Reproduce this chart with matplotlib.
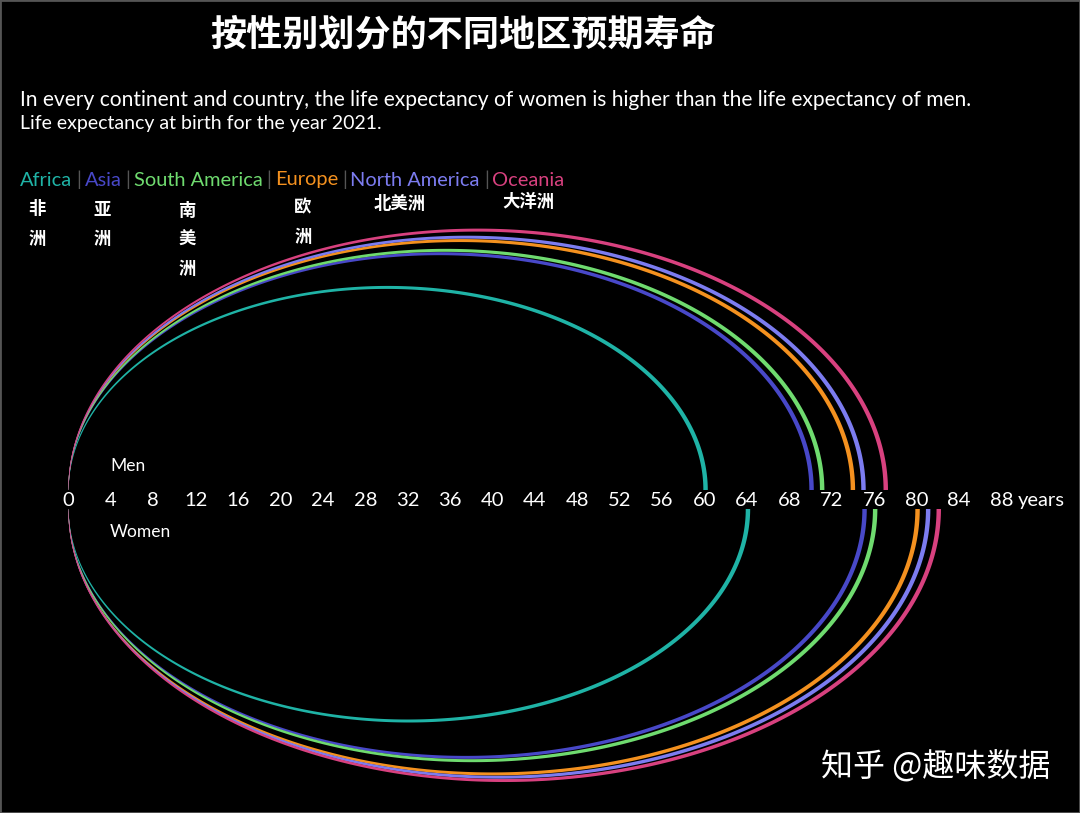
import numpy as np
import matplotlib.pyplot as plt
from matplotlib.patches import Polygon, Rectangle

regions = ["Africa", "Asia", "South America", "Europe", "North America", "Oceania"]
regions_cn = ["非\n洲", "亚\n洲", "南\n美\n洲", "欧\n洲", "北美洲", "大洋洲"]
men = [60.1, 70.1, 71.1, 74.0, 75.0, 77.1]
women = [64.1, 75.1, 76.1, 80.1, 81.1, 82.1]
colors = ["#1fb3a6", "#4848c8", "#6fdb6f", "#f4911f", "#7c7cf0", "#d8417f"]
ticks = [0, 4, 8, 12, 16, 20, 24, 28, 32, 36, 40, 44, 48, 52, 56, 60, 64, 68, 72, 76, 80, 84, 88]

W, H = 1080, 813
PX = 10.6     # pixels per year
X0 = 68.5     # pixel x of age 0
YC = 500      # pixel y of the axis labels

fig = plt.figure(figsize=(W / 100, H / 100), dpi=100, facecolor="black")
ax = fig.add_axes([0, 0, 1, 1])
ax.set_facecolor("black")
ax.set_xlim(-X0 / PX, (W - X0) / PX)
ax.set_ylim(-(H - YC) / PX, YC / PX)
ax.axis("off")

men_base = (YC - 490) / PX
women_base = -(509 - YC) / PX


def arc(value, base, sign, k, color):
    # half ellipse drawn as a filled band that gets wider towards the end
    th = np.linspace(np.pi, 0, 400)
    x = value / 2 * (1 + np.cos(th))
    y = base + sign * k * value * np.sin(th)
    dx = np.gradient(x)
    dy = np.gradient(y)
    n = np.hypot(dx, dy)
    nx, ny = -dy / n, dx / n
    t = np.linspace(0, 1, len(th))
    half = (0.15 + 4.3 * t ** 0.6) / 2 / PX
    left = np.column_stack([x + nx * half, y + ny * half])
    right = np.column_stack([x - nx * half, y - ny * half])
    poly = np.vstack([left, right[::-1]])
    ax.add_patch(Polygon(poly, closed=True, facecolor=color, edgecolor="none",
                         antialiased=True))


for v, c in zip(men, colors):
    arc(v, men_base, 1, 0.318, c)
for v, c in zip(women, colors):
    arc(v, women_base, -1, 0.312, c)

lato = "Lato"
for tk in ticks:
    ax.text(tk, 0, str(tk), ha="center", va="center", color="white",
            fontsize=14.5, family=lato)
ax.text(89.6, 0, "years", ha="left", va="center", color="white",
        fontsize=14.5, family=lato)


def fx(px):
    return px / W


def fy(py):
    return 1 - py / H


fig.text(fx(110), fy(466), "Men", ha="left", va="center", color="white",
         fontsize=12.5, family=lato)
fig.text(fx(110), fy(532), "Women", ha="left", va="center", color="white",
         fontsize=12.5, family=lato)

# title and subtitle
fig.text(fx(463), fy(35), "按性别划分的不同地区预期寿命", ha="center", va="center",
         color="white", fontsize=26, fontweight="bold",
         family=["Noto Sans CJK SC", "DejaVu Sans"])
fig.text(fx(20), fy(100), "In every continent and country, the life expectancy of women "
         "is higher than the life expectancy of men.", ha="left", va="center",
         color="white", fontsize=15.1, family=lato)
fig.text(fx(20), fy(124), "Life expectancy at birth for the year 2021.", ha="left",
         va="center", color="white", fontsize=14, family=lato)

# coloured legend line
fig.canvas.draw()
r = fig.canvas.get_renderer()
xpos = 20
for i, (name, c) in enumerate(zip(regions, colors)):
    t = fig.text(fx(xpos), fy(180), name, ha="left", va="center", color=c,
                 fontsize=14.4, family=lato)
    xpos = t.get_window_extent(r).x1 + 4
    if i < len(regions) - 1:
        s = fig.text(fx(xpos), fy(180), "|", ha="left", va="center", color="#555555",
                     fontsize=14.4, family=lato)
        xpos = s.get_window_extent(r).x1 + 3.5

cn_pos = [(37, 224), (102, 224), (187, 240), (303, 222), (400, 204), (528, 202)]
for (px, py), lab in zip(cn_pos, regions_cn):
    fig.text(fx(px), fy(py), lab, ha="center", va="center", color="white",
             fontsize=12.5, fontweight="bold", linespacing=1.8,
             family=["Noto Sans CJK SC", "DejaVu Sans"])

fig.text(fx(1050), fy(767), "知乎 @趣味数据", ha="right", va="center", color="white",
         fontsize=23, family=["Noto Sans CJK SC", "DejaVu Sans"])

fig.patches.append(Rectangle((0, 0), 1, 1, transform=fig.transFigure, fill=False,
                             edgecolor="#555555", linewidth=2))

fig.savefig("out.png", dpi=100, facecolor="black")
